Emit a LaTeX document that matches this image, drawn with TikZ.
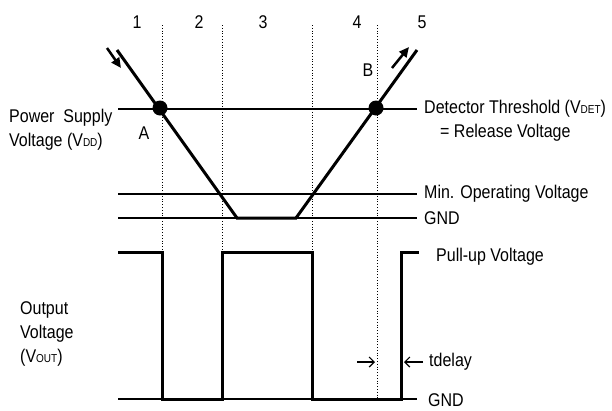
\documentclass[tikz,border=0pt]{standalone}
\usepackage{fontspec}
\setmainfont{Liberation Sans}
\usetikzlibrary{arrows.meta}
\newcommand{\sbs}[1]{{\fontsize{10}{12}\selectfont #1}}
\newcommand{\tall}[1]{\scalebox{1}[1.15]{#1}}
\begin{document}
\begin{tikzpicture}[x=1pt,y=-1pt,
    lbl/.style={inner sep=0pt,font=\fontsize{16}{24}\selectfont},
    thinline/.style={line width=1.4pt},
    thickline/.style={line width=3pt},
    guide/.style={line width=0.8pt,dotted},
    slope/.style={line width=2.5pt,-{Triangle[length=10pt,width=9pt]}},
    delay/.style={line width=1.2pt,-{Straight Barb[length=5pt,width=10pt]}}]
    \useasboundingbox (0,0) rectangle (612,410);
    % phase boundaries
    \foreach \x/\y in {162/252,222/252,312/252,377/399}
      \draw[guide] (\x,25) -- (\x,\y);
    \foreach \n/\x in {1/137,2/199,3/263,4/357,5/422}
      \node[lbl] (ph\n) at (\x,22) {\tall{\n}};
    % supply voltage
    \draw[thinline] (118,109) -- (417,109);
    \draw[thinline] (118,194) -- (417,194);
    \draw[thinline] (118,218) -- (417,218);
    \draw[thickline,line join=miter] (117,50) -- (237,218) -- (296,218) -- (417,50);
    \draw[slope] (107,48) -- (121,68);
    \draw[slope] (392,68) -- (409,47);
    \fill (160,108) coordinate (A) circle (7.5);
    \fill (376,108) coordinate (B) circle (7.5);
    \node[lbl] (lA) at (144,133) {\tall{A}};
    \node[lbl] (lB) at (368,70) {\tall{B}};
    \node[lbl,anchor=west,align=left] (vdd) at (9,130) {\tall{Power\ \ Supply}\\\tall{Voltage (V\sbs{DD})}};
    \node[lbl,anchor=west] (vdet) at (424,109) {\tall{Detector Threshold (V\sbs{DET})}};
    \node[lbl,anchor=west] (rel) at (440,133) {\tall{= Release Voltage}};
    \node[lbl,anchor=west] (vmin) at (424,194) {\tall{Min. Operating Voltage}};
    \node[lbl,anchor=west] (gnd1) at (424,218) {\tall{GND}};
    % output voltage
    \draw[thinline] (118,399) -- (417,399);
    \draw[thickline,line join=miter] (118,252) -- (162,252) -- (162,399) -- (222,399) -- (222,252)
      -- (312,252) -- (312,399) -- (401,399) -- (401,252) -- (419,252);
    \node[lbl,anchor=west,align=left] (vout) at (20,334) {\tall{Output}\\\tall{Voltage}\\\tall{(V\sbs{OUT})}};
    \node[lbl,anchor=west] (pull) at (436,257) {\tall{Pull-up Voltage}};
    \node[lbl,anchor=west] (td) at (429,362) {\tall{tdelay}};
    \node[lbl,anchor=west] (gnd2) at (428,400) {\tall{GND}};
    \coordinate (t1) at (357,362);
    \coordinate (t2) at (375,362);
    \coordinate (t3) at (404,362);
    \draw[delay] (t1) -- (t2);
    \draw[delay] (td.west) ++(-6,0) -- (t3);
\end{tikzpicture}
\end{document}
